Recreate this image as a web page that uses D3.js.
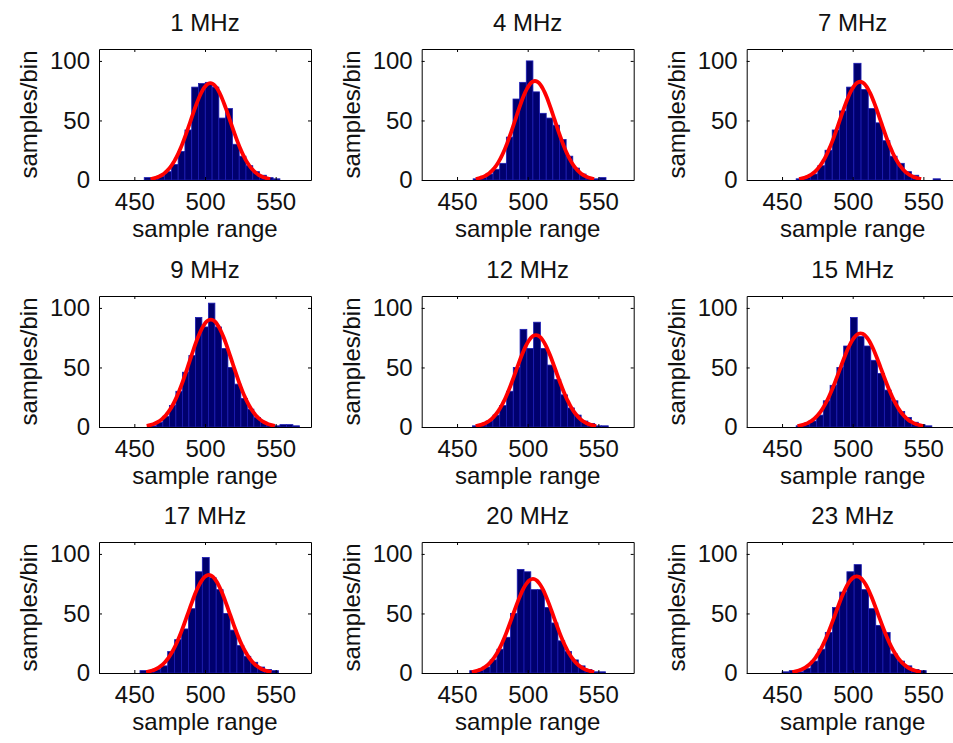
<!DOCTYPE html>
<html><head><meta charset="utf-8">
<script src="https://cdn.jsdelivr.net/npm/d3@7"></script>
<style>
body{margin:0;background:#fff;overflow:hidden}
svg{display:block}
text{font-family:"Liberation Sans",Arial,Helvetica,sans-serif;fill:#111}
</style>
</head><body>
<svg id="chart" width="953" height="743"></svg>
<script>
// ---- data ----
const titles = ["1 MHz","4 MHz","7 MHz","9 MHz","12 MHz","15 MHz","17 MHz","20 MHz","23 MHz"];
const binStart = [457, 461.4, 460, 461, 461, 460, 454, 459, 450];
const binWidth = [4.8, 4.7, 5.1, 4.6, 4.8, 4.8, 4.9, 4.8, 5.1];
const counts1MHz  = [2,1,3,7,13,24,42,78,81,82,78,52,60,30,20,12,7,4,2,1];
const counts4MHz  = [1,2,5,9,14,36,68,82,100,74,56,52,46,34,20,10,5,2,1,2];
const counts7MHz  = [1,2,5,12,25,42,58,78,98,76,60,48,33,20,14,7,4,0,0,1];
const counts9MHz  = [1,4,9,18,30,46,60,92,84,104,84,66,50,36,24,15,8,4,2,1,2,2,1];
const counts12MHz = [1,2,5,10,18,30,50,82,66,88,66,52,40,27,16,10,5,3,1,1];
const counts15MHz = [1,2,5,10,22,35,50,68,92,76,68,56,45,31,22,13,8,4,2,1];
const counts17MHz = [2,1,3,6,18,28,37,54,85,97,80,70,50,36,23,14,9,5,3,2];
const counts20MHz = [2,2,5,11,20,30,50,87,85,70,70,55,42,27,18,11,6,3,1,1];
const counts23MHz = [1,2,1,4,10,20,34,55,68,85,91,70,54,40,34,16,10,6,3,2];
const countsList = [counts1MHz,counts4MHz,counts7MHz,counts9MHz,counts12MHz,counts15MHz,counts17MHz,counts20MHz,counts23MHz];
const xTicks = [450, 500, 550];
const yTicks = [0, 50, 100];
const xDomain = [425, 575];
const yDomain = [0, 110];
const xLabel = "sample range";
const yLabel = "samples/bin";

// ---- layout ----
const colLeft = [99, 421.7, 746.7];
const rowTop = [49, 296, 542];
const W = 212, H = 131;
const FS = 24;

const svg = d3.select("#chart");

titles.forEach((title, k) => {
  const r = Math.floor(k / 3), c = k % 3;
  const g = svg.append("g").attr("transform", `translate(${colLeft[c]},${rowTop[r]})`);
  const x = d3.scaleLinear().domain(xDomain).range([0, W]);
  const y = d3.scaleLinear().domain(yDomain).range([H, 0]);
  const counts = countsList[k];
  const bw = binWidth[k], b0 = binStart[k];
  const bins = counts.map((n, i) => ({x0: b0 + i * bw, x1: b0 + (i + 1) * bw, n}));

  // bars
  g.append("g").selectAll("rect").data(bins).join("rect")
    .attr("x", d => x(d.x0))
    .attr("width", d => x(d.x1) - x(d.x0))
    .attr("y", d => y(d.n))
    .attr("height", d => y(0) - y(d.n))
    .attr("fill", "#00006e")
    .attr("stroke", "#1c1cb4")
    .attr("stroke-width", 0.8);

  // normal fit derived from the histogram (histfit style: mu +/- 3 sigma)
  const N = d3.sum(bins, d => d.n);
  const mu = d3.sum(bins, d => d.n * (d.x0 + d.x1) / 2) / N;
  const sd = Math.sqrt(d3.sum(bins, d => d.n * Math.pow((d.x0 + d.x1) / 2 - mu, 2)) / (N - 1));
  const xs = d3.range(-3, 3.0001, 0.1).map(t => mu + t * sd);
  const fit = xs.map(v => ({v, f: N * bw * Math.exp(-0.5 * Math.pow((v - mu) / sd, 2)) / (sd * Math.sqrt(2 * Math.PI))}));
  g.append("path").datum(fit)
    .attr("fill", "none").attr("stroke", "#ff0000").attr("stroke-width", 3.8)
    .attr("stroke-linejoin", "round")
    .attr("d", d3.line().x(d => x(d.v)).y(d => y(d.f)).curve(d3.curveMonotoneX));

  // axes (box with inward ticks)
  const ax = [
    g.append("g").attr("transform", `translate(0,${H})`).call(d3.axisBottom(x).tickValues(xTicks).tickSizeInner(-3).tickSizeOuter(0).tickPadding(13)),
    g.append("g").call(d3.axisTop(x).tickValues(xTicks).tickSizeInner(-3).tickSizeOuter(0).tickFormat("")),
    g.append("g").call(d3.axisLeft(y).tickValues(yTicks).tickSizeInner(-3).tickSizeOuter(0).tickPadding(9)),
    g.append("g").attr("transform", `translate(${W},0)`).call(d3.axisRight(y).tickValues(yTicks).tickSizeInner(-3).tickSizeOuter(0).tickFormat(""))
  ];
  ax.forEach(a => {
    a.selectAll("path,line").attr("stroke", "#000").attr("stroke-width", 1);
    a.selectAll("text").attr("font-size", FS).attr("font-family", null).attr("fill", "#111");
  });

  // labels
  g.append("text").attr("x", W / 2).attr("y", -18).attr("text-anchor", "middle")
    .attr("font-size", FS).text(title);
  g.append("text").attr("x", W / 2).attr("y", H + 57).attr("text-anchor", "middle")
    .attr("font-size", FS).text(xLabel);
  g.append("text").attr("transform", `translate(-62,${H / 2}) rotate(-90)`)
    .attr("text-anchor", "middle").attr("font-size", FS).text(yLabel);
});
</script>
</body></html>
